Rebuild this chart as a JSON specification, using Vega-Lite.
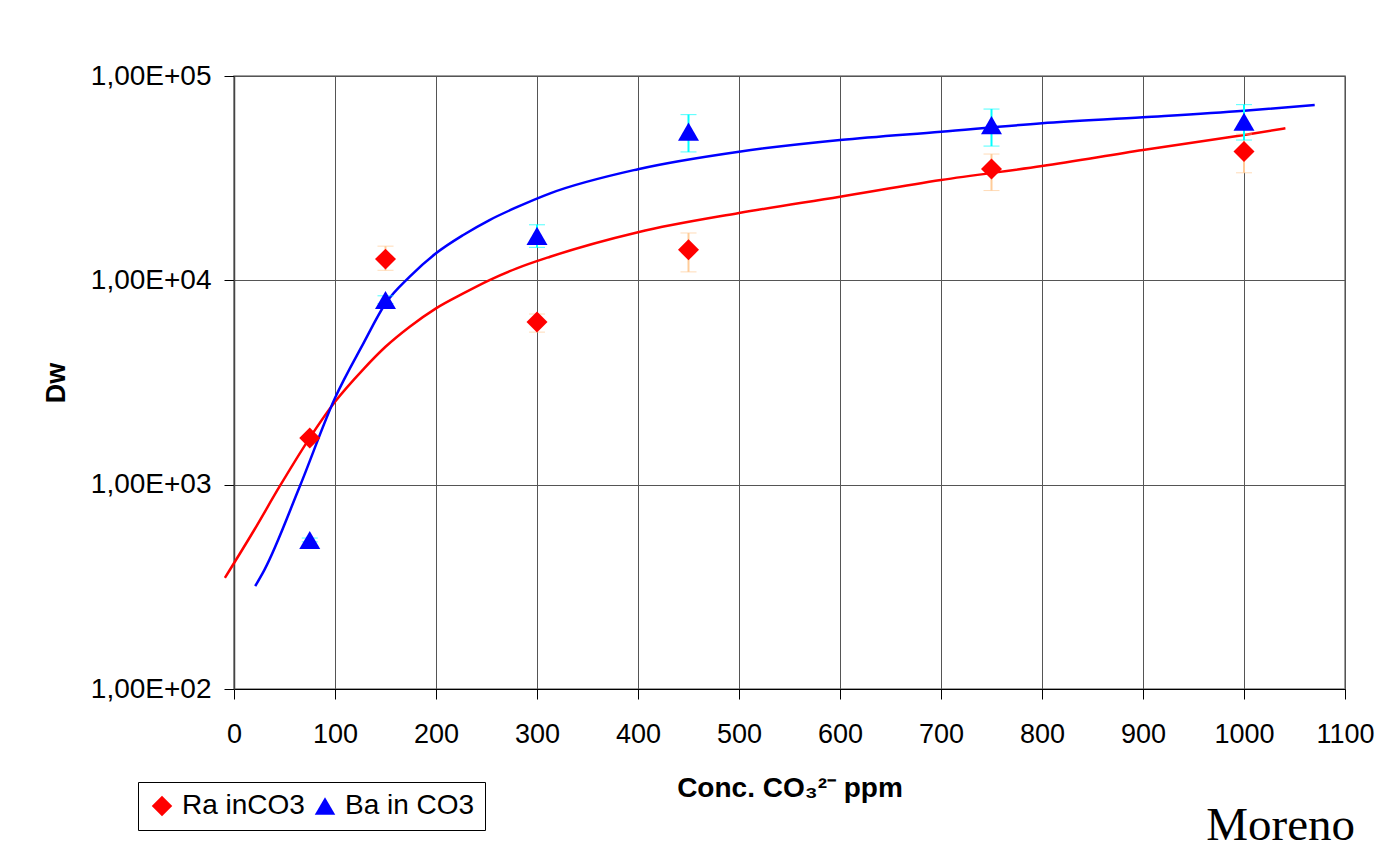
{
  "$schema": "https://vega.github.io/schema/vega-lite/v6.json",
  "autosize": {"type": "none"},
  "width": 1111,
  "height": 613,
  "padding": {"left": 234, "top": 76, "right": 34, "bottom": 159},
  "background": "white",
  "title": {
    "text": "Moreno",
    "orient": "bottom",
    "anchor": "end",
    "frame": "group",
    "font": "Liberation Serif",
    "fontSize": 47,
    "fontWeight": "normal",
    "color": "black",
    "dx": 10,
    "offset": -28
  },
  "config": {
    "view": {"stroke": "#808080", "strokeWidth": 1.5},
    "axis": {
      "labelFont": "Liberation Sans",
      "titleFont": "Liberation Sans",
      "labelColor": "black",
      "titleColor": "black",
      "gridColor": "#555555",
      "gridWidth": 1,
      "gridOpacity": 1,
      "tickColor": "black",
      "domainColor": "#444444"
    },
    "legend": {"labelFont": "Liberation Sans"}
  },
  "datasets": {
    "pts": [
      {"series": "Ra inCO3", "x": 75, "y": 1690, "lo": 1660, "hi": 1720},
      {"series": "Ra inCO3", "x": 150, "y": 12700, "lo": 11200, "hi": 14700},
      {"series": "Ra inCO3", "x": 300, "y": 6250, "lo": 5580, "hi": 6840},
      {"series": "Ra inCO3", "x": 450, "y": 14100, "lo": 11000, "hi": 17050},
      {"series": "Ra inCO3", "x": 750, "y": 35100, "lo": 27500, "hi": 41500},
      {"series": "Ra inCO3", "x": 1000, "y": 42700, "lo": 33600, "hi": 52000},
      {"series": "Ba in CO3", "x": 75, "y": 536, "lo": 525, "hi": 548},
      {"series": "Ba in CO3", "x": 150, "y": 8010, "lo": 7700, "hi": 8400},
      {"series": "Ba in CO3", "x": 300, "y": 16500, "lo": 14500, "hi": 18700},
      {"series": "Ba in CO3", "x": 450, "y": 53400, "lo": 42500, "hi": 64700},
      {"series": "Ba in CO3", "x": 750, "y": 57500, "lo": 45400, "hi": 68900},
      {"series": "Ba in CO3", "x": 1000, "y": 59700, "lo": 48600, "hi": 72400}
    ],
    "fits": [
      {"series": "Ra inCO3", "x": -9, "y": 350},
      {"series": "Ra inCO3", "x": 20, "y": 600},
      {"series": "Ra inCO3", "x": 45, "y": 977},
      {"series": "Ra inCO3", "x": 75, "y": 1695},
      {"series": "Ra inCO3", "x": 100, "y": 2545},
      {"series": "Ra inCO3", "x": 128, "y": 3670},
      {"series": "Ra inCO3", "x": 150, "y": 4730},
      {"series": "Ra inCO3", "x": 174, "y": 5930},
      {"series": "Ra inCO3", "x": 200, "y": 7295},
      {"series": "Ra inCO3", "x": 227, "y": 8635},
      {"series": "Ra inCO3", "x": 253, "y": 10035},
      {"series": "Ra inCO3", "x": 280, "y": 11450},
      {"series": "Ra inCO3", "x": 313, "y": 13050},
      {"series": "Ra inCO3", "x": 400, "y": 17200},
      {"series": "Ra inCO3", "x": 500, "y": 21350},
      {"series": "Ra inCO3", "x": 600, "y": 25650},
      {"series": "Ra inCO3", "x": 700, "y": 30970},
      {"series": "Ra inCO3", "x": 800, "y": 36270},
      {"series": "Ra inCO3", "x": 900, "y": 43440},
      {"series": "Ra inCO3", "x": 1000, "y": 51430},
      {"series": "Ra inCO3", "x": 1041, "y": 55460},
      {"series": "Ba in CO3", "x": 21, "y": 319},
      {"series": "Ba in CO3", "x": 30, "y": 382},
      {"series": "Ba in CO3", "x": 65, "y": 977},
      {"series": "Ba in CO3", "x": 100, "y": 2655},
      {"series": "Ba in CO3", "x": 128, "y": 4900},
      {"series": "Ba in CO3", "x": 150, "y": 7700},
      {"series": "Ba in CO3", "x": 174, "y": 10420},
      {"series": "Ba in CO3", "x": 200, "y": 13560},
      {"series": "Ba in CO3", "x": 227, "y": 16670},
      {"series": "Ba in CO3", "x": 253, "y": 19730},
      {"series": "Ba in CO3", "x": 280, "y": 22800},
      {"series": "Ba in CO3", "x": 313, "y": 26660},
      {"series": "Ba in CO3", "x": 400, "y": 35000},
      {"series": "Ba in CO3", "x": 500, "y": 42620},
      {"series": "Ba in CO3", "x": 600, "y": 48610},
      {"series": "Ba in CO3", "x": 700, "y": 53380},
      {"series": "Ba in CO3", "x": 800, "y": 58680},
      {"series": "Ba in CO3", "x": 900, "y": 62800},
      {"series": "Ba in CO3", "x": 1000, "y": 67600},
      {"series": "Ba in CO3", "x": 1070, "y": 72110}
    ]
  },
  "encoding": {
    "x": {
      "field": "x",
      "type": "quantitative",
      "scale": {"domain": [0, 1100], "nice": false, "zero": false},
      "axis": {
        "values": [0, 100, 200, 300, 400, 500, 600, 700, 800, 900, 1000, 1100],
        "format": "d",
        "grid": true,
        "tickSize": 10,
        "labelFontSize": 27,
        "labelPadding": 22,
        "labelFlush": false,
        "domainColor": "black",
        "title": "Conc. CO₃²⁻ ppm",
        "titleFontSize": 28,
        "titleFontWeight": "bold",
        "titlePadding": 27
      }
    },
    "y": {
      "field": "y",
      "type": "quantitative",
      "scale": {"type": "log", "domain": [100, 100000], "nice": false},
      "axis": {
        "values": [100, 1000, 10000, 100000],
        "grid": true,
        "tickSize": 10,
        "labelFontSize": 28,
        "labelPadding": 13,
        "labelFlush": false,
        "labelExpr": "'1,00E+0' + format(round(log(datum.value) / LN10), 'd')",
        "domainWidth": 1.5,
        "title": "Dw",
        "titleFontSize": 27,
        "titleFontWeight": "bold",
        "titlePadding": 20
      }
    }
  },
  "layer": [
    {
      "data": {"name": "fits"},
      "transform": [{"filter": "datum.series == 'Ra inCO3'"}],
      "mark": {"type": "line", "strokeWidth": 2.5, "interpolate": "monotone", "clip": false, "color": "#FF0000"},
      "encoding": {}
    },
    {
      "data": {"name": "fits"},
      "transform": [{"filter": "datum.series == 'Ba in CO3'"}],
      "mark": {"type": "line", "strokeWidth": 2.5, "interpolate": "monotone", "clip": false, "color": "#0000FF"},
      "encoding": {}
    },
    {
      "data": {"name": "pts"},
      "transform": [{"filter": "datum.series == 'Ra inCO3'"}],
      "mark": {"type": "errorbar", "ticks": {"size": 16, "strokeWidth": 2, "color": "#FFCC99"}, "rule": {"strokeWidth": 2, "color": "#FFCC99"}},
      "encoding": {
        "y": {"field": "lo", "type": "quantitative"},
        "y2": {"field": "hi"}
      }
    },
    {
      "data": {"name": "pts"},
      "transform": [{"filter": "datum.series == 'Ba in CO3'"}],
      "mark": {"type": "errorbar", "ticks": {"size": 16, "strokeWidth": 2, "color": "#00FFFF"}, "rule": {"strokeWidth": 2, "color": "#00FFFF"}},
      "encoding": {
        "y": {"field": "lo", "type": "quantitative"},
        "y2": {"field": "hi"}
      }
    },
    {
      "data": {"name": "pts"},
      "mark": {"type": "point", "filled": true, "opacity": 1, "size": 440},
      "encoding": {
        "color": {
          "field": "series",
          "type": "nominal",
          "scale": {"domain": ["Ra inCO3", "Ba in CO3"], "range": ["#FF0000", "#0000FF"]},
          "legend": {
            "title": null,
            "orient": "none",
            "direction": "horizontal",
            "legendX": -96,
            "legendY": 706,
            "strokeColor": "black",
            "fillColor": "white",
            "padding": 10,
            "labelFontSize": 28,
            "labelColor": "black",
            "symbolSize": 420,
            "columnPadding": 6,
            "labelOffset": 6
          }
        },
        "shape": {
          "field": "series",
          "type": "nominal",
          "scale": {"domain": ["Ra inCO3", "Ba in CO3"], "range": ["diamond", "triangle-up"]},
          "legend": {
            "title": null,
            "orient": "none",
            "direction": "horizontal",
            "legendX": -96,
            "legendY": 706,
            "strokeColor": "black",
            "fillColor": "white",
            "padding": 10,
            "labelFontSize": 28,
            "labelColor": "black",
            "symbolSize": 420,
            "columnPadding": 6,
            "labelOffset": 6
          }
        }
      }
    }
  ]
}
